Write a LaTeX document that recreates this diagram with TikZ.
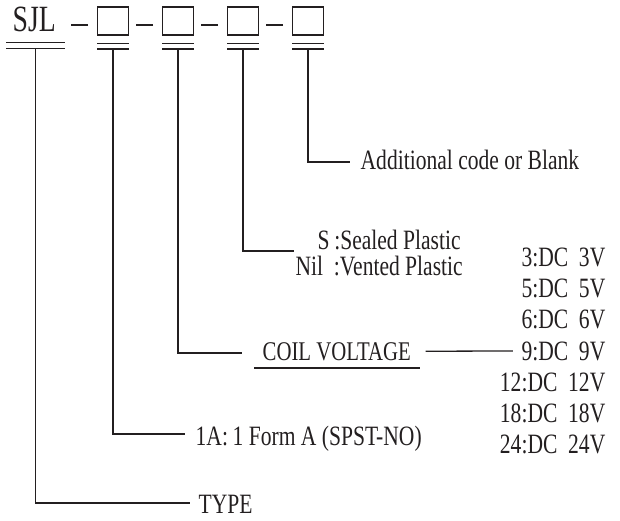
\documentclass[tikz,border=0pt]{standalone}
\usepackage{fontspec}
\setmainfont[FakeStretch=0.77]{Liberation Serif}
\newfontfamily\sjlfont[FakeStretch=0.75]{Liberation Serif}
\definecolor{ink}{HTML}{231F20}
\begin{document}
\begin{tikzpicture}[x=1pt,y=-1pt,line width=1.3pt,draw=ink,
  txt/.style={font=\fontsize{28}{28}\selectfont,text=ink,inner sep=0pt,anchor=base west},
  volt/.style={font=\fontsize{28}{28}\selectfont,text=ink,inner sep=0pt,anchor=base east},
  codebox/.style={draw=ink,line width=1.4pt,minimum width=30.6pt,minimum height=28.3pt,inner sep=0pt}]
\useasboundingbox (0,0) rectangle (620,521);
% header
\node[font=\sjlfont\fontsize{37}{37}\selectfont,text=ink,inner sep=0pt,anchor=base west] (sjl) at (12,32) {SJL};
\node[codebox] (b1) at (113,21) {};
\node[codebox] (b2) at (178,21) {};
\node[codebox] (b3) at (243,21) {};
\node[codebox] (b4) at (308,21) {};
\foreach \b in {b1,b2,b3,b4}{
  \draw[line width=1.2pt] ([xshift=-9pt,yshift=-4pt]\b.west) -- ([xshift=-26.5pt,yshift=-4pt]\b.west);
  \draw ([yshift=-7.7pt]\b.south west) -- ([yshift=-7.7pt]\b.south east);
  \draw ([yshift=-13.3pt]\b.south west) -- ([yshift=-13.3pt]\b.south east);
  \coordinate (s\b) at ([yshift=-13.3pt]\b.south);
}
\draw (6,42.7) -- (65,42.7);
\draw (6,48.3) -- (65,48.3);
\coordinate (ssjl) at (35.5,48.3);
% texts
\node[txt] (add) at (360,170) {Additional code or Blank};
\node[txt] (seal) at (317,249) {S\,:Sealed Plastic};
\node[txt] (vent) at (295,275) {Nil\ \ :Vented Plastic};
\node[txt,font=\fontsize{27}{27}\selectfont,inner xsep=8pt,inner ysep=7pt] (coil) at (254,360) {COIL VOLTAGE};
\node[txt] (form) at (195,445) {1A:\,1 Form A (SPST-NO)};
\node[txt] (type) at (198,513) {TYPE};
\node[volt] (v3) at (606,266) {3:DC\ \ 3V};
\node[volt] (v5) at (606,297) {5:DC\ \ 5V};
\node[volt] (v6) at (606,328) {6:DC\ \ 6V};
\node[volt] (v9) at (606,360) {9:DC\ \ 9V};
\node[volt] (v12) at (606,391) {12:DC\ \ 12V};
\node[volt] (v18) at (606,422) {18:DC\ \ 18V};
\node[volt] (v24) at (606,453) {24:DC\ \ 24V};
% connector ends
\coordinate (e4) at (350,162);
\coordinate (e3) at (294,251);
\coordinate (e2) at (242,353);
\coordinate (e1) at (185,434);
\coordinate (e0) at (190,503);
\draw (sb4) |- (e4);
\draw (sb3) |- (e3);
\draw (sb2) |- (e2);
\draw (sb1) |- (e1);
\draw (ssjl) |- (e0);
\draw (coil.south west) -- (coil.south east);
\draw[shorten <=6pt,shorten >=8pt] (coil.east) -- (v9.west);
\end{tikzpicture}
\end{document}
